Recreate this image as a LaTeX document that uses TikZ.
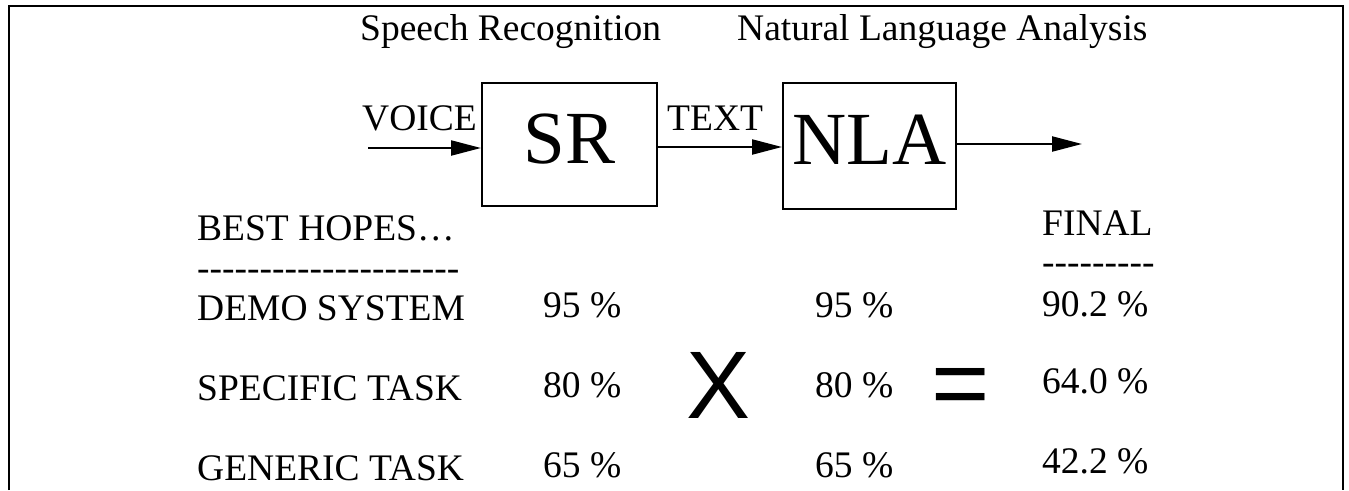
\documentclass[tikz,border=0pt]{standalone}
\usepackage{fontspec}
\setmainfont{Liberation Serif}
\newfontfamily\sansX{Liberation Sans}
\usetikzlibrary{arrows.meta}
\newcommand\hyrow[1]{\foreach \k in {1,...,#1}{\mbox{-}}}
\tikzset{
  txt/.style={font=\fontsize{37.5}{40}\selectfont, inner sep=0pt, anchor=base west},
  blk/.style={draw, line width=2pt, font=\fontsize{75}{80}\selectfont, inner sep=0pt, text height=50pt, text depth=13pt},
  arr/.style={line width=2.2pt, -{Triangle[length=30pt,width=15pt]}},
  sym/.style={font=\sansX\fontsize{96}{100}\selectfont, inner sep=0pt},
  frame/.style={line width=1.5pt}
}
\begin{document}
\begin{tikzpicture}[x=1pt,y=-1pt]
\useasboundingbox (0,0) rectangle (1349,490);
% frame
\coordinate (f1) at (9,490);
\coordinate (f2) at (9,6);
\coordinate (f3) at (1343,6);
\coordinate (f4) at (1343,490);
\draw[frame] (f1) -- (f2) -- (f3) -- (f4);
% headings
\node[txt] (h1) at (360,40) {Speech Recognition};
\node[txt] (h2) at (737,40) {Natural Language Analysis};
% blocks
\node[blk, minimum width=175pt, minimum height=123pt] (sr) at (569.5,144.5) {SR};
\node[blk, minimum width=173pt, minimum height=126pt] (nla) at (869.5,146) {NLA};
\node[txt] (voice) at (362,130) {VOICE};
\node[txt] (text) at (667,130) {TEXT};
\coordinate (vin) at (368,148);
\coordinate (out) at (1082,144);
\draw[arr] (vin) -- (vin -| sr.west);
\draw[arr] ([yshift=-2.5pt]sr.east) -- ([yshift=-2.5pt]sr.east -| nla.west);
\draw[arr] (out -| nla.east) -- (out);
% table
\node[txt] (best) at (197,240) {BEST HOPES…};
\node[txt] (d1) at (197,280) {\hyrow{21}};
\node[txt] (fin) at (1042,235) {FINAL};
\node[txt] (d2) at (1042,274) {\hyrow{9}};
\node[txt] (r1) at (197,320) {DEMO SYSTEM};
\node[txt] (r2) at (197,400) {SPECIFIC TASK};
\node[txt] (r3) at (197,480) {GENERIC TASK};
\node[txt] (a1) at (543,317) {95 \%};
\node[txt] (a2) at (543,397) {80 \%};
\node[txt] (a3) at (543,477) {65 \%};
\node[txt] (b1) at (815,317) {95 \%};
\node[txt] (b2) at (815,397) {80 \%};
\node[txt] (b3) at (815,477) {65 \%};
\node[txt] (c1) at (1042,316) {90.2 \%};
\node[txt] (c2) at (1042,393) {64.0 \%};
\node[txt] (c3) at (1042,473) {42.2 \%};
\node[sym, anchor=base] (times) at (718.5,418) {X};
\node[sym, font=\sansX\fontsize{100}{104}\selectfont] (eq) at (961,393) {=};
\end{tikzpicture}
\end{document}
